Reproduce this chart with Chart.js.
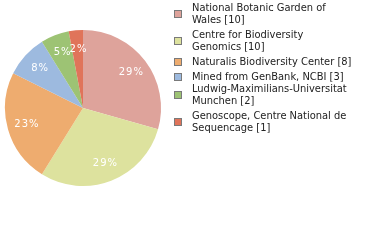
<!DOCTYPE html>
<html>
<head>
<meta charset="utf-8">
<script src="https://cdn.jsdelivr.net/npm/chart.js@4/dist/chart.umd.min.js"></script>
<style>
    html, body { margin: 0; padding: 0; background: #ffffff; }
    #wrap { position: relative; width: 380px; height: 240px; overflow: hidden; }
    #pieChart { position: absolute; left: 0; top: 0; }
    #legend {
        position: absolute;
        left: 174px;
        top: 2px;
        font-family: 'DejaVu Sans Condensed', 'DejaVu Sans', sans-serif;
        font-size: 11px;
        line-height: 12px;
        color: #222222;
    }
    .legend-item { display: flex; align-items: center; margin-bottom: 3px; }
    .legend-item:nth-child(4) { margin-bottom: 0; }
    .legend-box {
        width: 6px;
        height: 6px;
        border: 1px solid #7a7a7a;
        margin-right: 10px;
        flex: none;
    }
    .legend-text { width: 163px; }
</style>
</head>
<body>
<div id="wrap">
    <canvas id="pieChart" width="380" height="240"></canvas>
    <div id="legend"></div>
</div>
<script>
// Chart data
const labels = [
    'National Botanic Garden of Wales',
    'Centre for Biodiversity Genomics',
    'Naturalis Biodiversity Center',
    'Mined from GenBank, NCBI',
    'Ludwig-Maximilians-Universitat Munchen',
    'Genoscope, Centre National de Sequencage'
];
const counts = [10, 10, 8, 3, 2, 1];
const colors = ['#dea39b', '#dde29e', '#eeac6f', '#9dbadf', '#9dc374', '#e0745a'];

/**
 * Percentage labels inside slices
 */
const sliceLabels = {
    id: 'sliceLabels',
    afterDatasetsDraw(chart) {
        const ctx = chart.ctx;
        const meta = chart.getDatasetMeta(0);
        const total = counts.reduce((a, b) => a + b, 0);
        ctx.save();
        ctx.fillStyle = '#ffffff';
        ctx.font = '10px "DejaVu Sans", sans-serif';
        ctx.letterSpacing = '1px';
        ctx.textAlign = 'center';
        ctx.textBaseline = 'middle';
        meta.data.forEach((arc, i) => {
            const p = arc.getProps(['x', 'y', 'startAngle', 'endAngle', 'outerRadius'], true);
            const mid = (p.startAngle + p.endAngle) / 2;
            const r = p.outerRadius * 0.76;
            const pct = Math.floor(counts[i] / total * 100) + '%';
            ctx.fillText(pct, p.x + Math.cos(mid) * r + 1, p.y + Math.sin(mid) * r);
        });
        ctx.restore();
    }
};

function buildLegend() {
    const legend = document.getElementById('legend');
    labels.forEach((label, i) => {
        const item = document.createElement('div');
        item.className = 'legend-item';
        item.innerHTML = `
            <span class="legend-box" style="background:${colors[i]}"></span>
            <span class="legend-text">${label} [${counts[i]}]</span>
        `;
        legend.appendChild(item);
    });
}

document.addEventListener('DOMContentLoaded', () => {
    buildLegend();
    new Chart(document.getElementById('pieChart'), {
        type: 'pie',
        data: {
            labels: labels,
            datasets: [{
                data: counts,
                backgroundColor: colors,
                borderWidth: 0,
                hoverOffset: 0
            }]
        },
        options: {
            responsive: false,
            animation: false,
            layout: { padding: { left: 5, top: 30, right: 219, bottom: 54 } },
            plugins: {
                legend: { display: false },
                tooltip: { enabled: false }
            }
        },
        plugins: [sliceLabels]
    });
});
</script>
</body>
</html>
